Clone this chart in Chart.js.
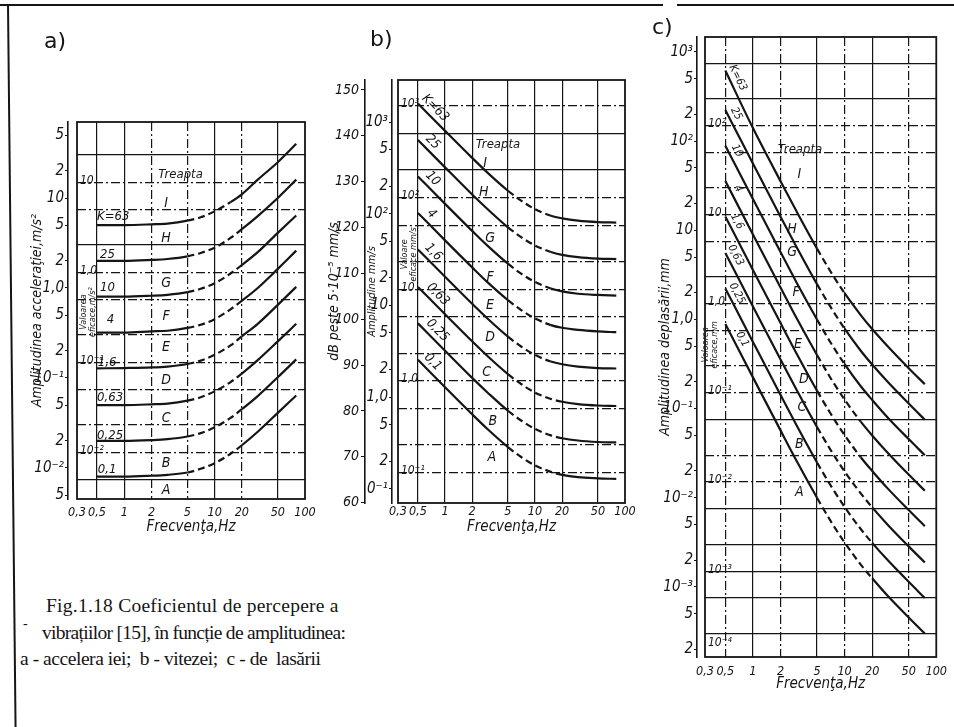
<!DOCTYPE html>
<html lang="ro">
<head>
<meta charset="UTF-8">
<title>Coeficientul de percepere a vibrațiilor</title>
<script src="https://cdn.jsdelivr.net/npm/chart.js@4.4.0/dist/chart.umd.min.js"></script>
<style>
    body { margin: 0; background: #fff; }
    .page { position: relative; width: 954px; height: 727px; overflow: hidden; background: #fff; }
    canvas { position: absolute; }
    .rule { position: absolute; background: #151515; }
    .slant { transform-origin: top left; transform: rotate(-0.6deg); }
    .letter { position: absolute; font: 22px 'DejaVu Sans', sans-serif; color: #151515; }
    .caption { position: absolute; font: 19.5px 'Liberation Serif', 'Times New Roman', serif; color: #151515; white-space: pre; }
</style>
</head>
<body>
<div class="page">
    <div class="rule" style="left:0;top:4px;width:663px;height:1.5px"></div>
    <div class="rule" style="left:677px;top:4px;width:277px;height:1.5px"></div>
    <div class="rule slant" style="left:7px;top:5px;width:1.5px;height:722px"></div>

    <canvas id="chartA" width="330" height="560" style="left:0;top:0"></canvas>
    <canvas id="chartB" width="320" height="560" style="left:322px;top:0"></canvas>
    <canvas id="chartC" width="314" height="727" style="left:640px;top:0"></canvas>

    <div class="letter" style="left:44px;top:28px">a)</div>
    <div class="letter" style="left:370px;top:26px">b)</div>
    <div class="letter" style="left:652px;top:14px">c)</div>

    <div class="caption" style="left:46px;top:595px;letter-spacing:0.25px">Fig.1.18 Coeficientul de percepere a</div>
    <div class="caption" style="left:23px;top:616px;font-size:14px">-</div>
    <div class="caption" style="left:42px;top:622px;letter-spacing:-0.7px">vibrațiilor [15], în funcție de amplitudinea:</div>
    <div class="caption" style="left:20px;top:648px;letter-spacing:-0.45px">a - accelera iei;  b - vitezei;  c - de  lasării</div>
</div>

<script>
    const INK = '#151515';
    const HAND = "'DejaVu Sans Condensed', 'Liberation Sans Narrow', 'DejaVu Sans', sans-serif";

    // frequencies at which the curves were read, Hz
    const freqAB = [0.5, 1, 2, 3, 5, 7, 10, 15, 20, 30, 50, 80];
    const freqC = [0.5, 1, 2, 3, 5, 7, 10, 15, 20, 30, 50, 75];

    const freqTicks = [0.3, 0.5, 1, 2, 5, 10, 20, 50, 100];
    const freqTickLabels = ['0,3', '0,5', '1', '2', '5', '10', '20', '50', '100'];

    const kLabels = ['K=63', '25', '10', '4', '1,6', '0,63', '0,25', '0,1'];
    const stepLabels = ['I', 'H', 'G', 'F', 'E', 'D', 'C', 'B', 'A'];

    // a) acceleration amplitude, m/s²
    const accel = [
        [5.0, 5.0, 5.1, 5.2, 5.6, 6.1, 7.1, 9.0, 11, 16, 25, 40],
        [2.0, 2.0, 2.05, 2.1, 2.25, 2.45, 2.8, 3.6, 4.5, 6.3, 10, 16],
        [0.8, 0.8, 0.82, 0.84, 0.9, 0.98, 1.13, 1.45, 1.8, 2.5, 4.1, 6.4],
        [0.32, 0.32, 0.33, 0.335, 0.36, 0.39, 0.45, 0.58, 0.72, 1.0, 1.63, 2.6],
        [0.128, 0.129, 0.131, 0.134, 0.143, 0.156, 0.181, 0.23, 0.29, 0.4, 0.65, 1.03],
        [0.05, 0.05, 0.051, 0.052, 0.056, 0.061, 0.071, 0.09, 0.112, 0.158, 0.255, 0.4],
        [0.02, 0.02, 0.0204, 0.0209, 0.0224, 0.0244, 0.0283, 0.036, 0.045, 0.063, 0.102, 0.161],
        [0.008, 0.008, 0.0082, 0.0084, 0.0089, 0.0098, 0.0113, 0.0144, 0.0179, 0.0253, 0.041, 0.064]
    ];
    // b) velocity amplitude, mm/s
    const velocity = [
        [1590, 800, 406, 277, 178, 139, 112, 95, 89, 84, 81, 80],
        [637, 320, 162, 111, 71, 55.6, 45, 38.2, 35.6, 33.6, 32.4, 32],
        [255, 128, 65, 44.3, 28.5, 22.2, 18, 15.3, 14.2, 13.4, 13, 12.8],
        [102, 51.2, 26, 17.7, 11.4, 8.9, 7.2, 6.1, 5.7, 5.4, 5.2, 5.1],
        [40.8, 20.5, 10.4, 7.1, 4.56, 3.56, 2.88, 2.44, 2.28, 2.15, 2.07, 2.05],
        [15.9, 8.0, 4.06, 2.77, 1.78, 1.39, 1.12, 0.955, 0.89, 0.84, 0.81, 0.8],
        [6.37, 3.2, 1.62, 1.11, 0.71, 0.556, 0.45, 0.382, 0.356, 0.336, 0.324, 0.32],
        [2.55, 1.28, 0.65, 0.443, 0.285, 0.222, 0.18, 0.153, 0.142, 0.134, 0.13, 0.128]
    ];
    // c) displacement amplitude, mm
    const displacement = [
        [620, 140, 35.5, 16.2, 6.23, 3.47, 1.97, 1.12, 0.78, 0.49, 0.284, 0.188],
        [223, 56, 14.2, 6.46, 2.49, 1.39, 0.788, 0.446, 0.312, 0.196, 0.114, 0.075],
        [89, 22.4, 5.7, 2.58, 1.0, 0.555, 0.315, 0.178, 0.125, 0.078, 0.0455, 0.030],
        [35.7, 8.96, 2.28, 1.03, 0.4, 0.222, 0.126, 0.0714, 0.05, 0.0314, 0.0182, 0.012],
        [14.3, 3.58, 0.91, 0.413, 0.159, 0.0888, 0.0504, 0.0285, 0.02, 0.0125, 0.00728, 0.0048],
        [5.58, 1.4, 0.356, 0.162, 0.0623, 0.0347, 0.0197, 0.0112, 0.0078, 0.0049, 0.00285, 0.00188],
        [2.23, 0.56, 0.142, 0.0646, 0.0249, 0.0139, 0.00788, 0.00446, 0.00312, 0.00196, 0.00114, 0.00075],
        [0.89, 0.224, 0.057, 0.0258, 0.01, 0.00555, 0.00315, 0.00178, 0.00125, 0.00078, 0.000455, 0.0003]
    ];

    // each curve is dashed from 5 Hz up to this frequency
    const dashEndA = [15, 20, 20, 20, 20, 20, 20, 20];
    const dashEndB = [15, 15, 15, 15, 15, 20, 20, 20];
    const dashEndC = [10, 10, 10, 15, 15, 20, 20, 20];

    // outer amplitude scales
    const accelTicks = [50, 20, 10, 5, 2, 1, 0.5, 0.2, 0.1, 0.05, 0.02, 0.01, 0.005];
    const accelTickLabels = ['5', '2', '10', '5', '2', '1,0', '5', '2', '10⁻¹', '5', '2', '10⁻²', '5'];
    const velocityTicks = [1000, 500, 200, 100, 50, 20, 10, 5, 2, 1, 0.5, 0.2, 0.1];
    const velocityTickLabels = ['10³', '5', '2', '10²', '5', '2', '10', '5', '2', '1,0', '5', '2', '10⁻¹'];
    const dbTicks = [150, 140, 130, 120, 110, 100, 90, 80, 70, 60];
    const dbRef = 5e-5; // mm/s
    const displTicks = [1000, 500, 200, 100, 50, 20, 10, 5, 2, 1, 0.5, 0.2, 0.1, 0.05, 0.02, 0.01, 0.005, 0.002, 0.001, 0.0005, 0.0002];
    const displTickLabels = ['10³', '5', '2', '10²', '5', '2', '10', '5', '2', '1,0', '5', '2', '10⁻¹', '5', '2', '10⁻²', '5', '2', '10⁻³', '5', '2'];

    // effective (rms) value scales written inside the frames
    const effA = [10, 1, 0.1, 0.01];
    const effALabels = ['10', '1,0', '10⁻¹', '10⁻²'];
    const effB = [1000, 100, 10, 1, 0.1];
    const effBLabels = ['10³', '10²', '10', '1,0', '10⁻¹'];
    const effC = [100, 10, 1, 0.1, 0.01, 0.001, 0.0001];
    const effCLabels = ['10²', '10', '1,0', '10⁻¹', '10⁻²', '10⁻³', '10⁻⁴'];

    // horizontal grid levels and the ones drawn solid
    const gridA = [30, 15, 7.5, 3, 1.5, 0.75, 0.3, 0.15, 0.075, 0.03, 0.015, 0.0075];
    const solidA = [30, 3, 0.0075];
    const gridB = [1500, 750, 300, 150, 75, 30, 15, 7.5, 3, 1.5, 0.75, 0.3, 0.15];
    const solidB = [750, 300];
    const gridC = [750, 300, 150, 75, 30, 15, 7.5, 3, 1.5, 0.75, 0.3, 0.15, 0.075, 0.03, 0.015, 0.0075, 0.003, 0.0015, 0.00075, 0.0003];
    const solidC = [750, 300, 3, 0.075, 0.0075, 0.003, 0.0015, 0.00075, 0.0003];
    // vertical grid lines drawn solid
    const vSolidA = [0.5, 1, 10, 50];
    const vSolidB = [0.5, 1, 2, 5, 10, 20, 50];
    const vSolidC = [1, 5, 20];

    // label anchors as [frequency, amplitude]
    const treaptaA = [4.2, 18];
    const stepPosA = [[2.9, 8.8], [2.9, 3.6], [2.9, 1.14], [2.9, 0.49], [2.9, 0.22], [2.9, 0.095], [2.9, 0.036], [2.9, 0.0114], [2.9, 0.0057]];
    const kPosA = [[0.5, 6.2], [0.54, 2.35], [0.54, 1.0], [0.64, 0.44], [0.51, 0.15], [0.5, 0.06], [0.5, 0.023], [0.51, 0.0095]];
    const treaptaB = [3.87, 561];
    const stepPosB = [[2.78, 356], [2.7, 173], [3.16, 54], [3.16, 20.4], [3.16, 10.1], [3.16, 4.5], [2.9, 1.88], [3.4, 0.54], [3.3, 0.22]];
    const treaptaC = [3.26, 80];
    const stepPosC = [[3.2, 42], [2.67, 10.2], [2.67, 5.6], [2.95, 2.0], [3.1, 0.52], [3.6, 0.214], [3.42, 0.103], [3.2, 0.04], [3.2, 0.0115]];
    // in b) and c) the K labels run along their curve: frequency of the label centre
    const kFreqB = [0.66, 0.62, 0.62, 0.6, 0.63, 0.71, 0.7, 0.62];
    const kFreqC = [0.57, 0.55, 0.56, 0.58, 0.56, 0.54, 0.56, 0.64];

    const handFont = size => `italic ${size}px ${HAND}`;
    const dashDot = [9, 3, 2, 3];
    const near = (list, v) => list.some(s => Math.abs(s - v) <= 1e-9 * Math.max(1, Math.abs(v)));

    // value of a curve at frequency f, read between its neighbouring points on log axes
    function curveAt(freq, row, f) {
        let j = 0;
        while (j < freq.length - 2 && freq[j + 1] < f) j++;
        const t = Math.log(f / freq[j]) / Math.log(freq[j + 1] / freq[j]);
        return {j, v: Math.exp(Math.log(row[j]) + t * Math.log(row[j + 1] / row[j]))};
    }

    function notesPlugin(p) {
        return {
            id: 'notes',
            afterDatasetsDraw(chart) {
                const {ctx, chartArea: area, scales: {x, y}} = chart;
                const px = f => x.getPixelForValue(f);
                const py = v => y.getPixelForValue(v);
                ctx.save();
                ctx.strokeStyle = INK;
                ctx.lineWidth = 1.8;
                ctx.strokeRect(area.left, area.top, area.right - area.left, area.bottom - area.top);
                ctx.fillStyle = INK;

                // rms scale, just inside the left edge (kept clear of the bottom frame)
                ctx.font = handFont(12);
                ctx.textAlign = 'left';
                ctx.textBaseline = 'middle';
                p.eff.forEach((v, i) => {
                    const yy = Math.min(py(v * Math.SQRT2) - 4, area.bottom - 14);
                    ctx.fillText(p.effLabels[i], area.left + 3, yy);
                });

                ctx.save();
                ctx.translate(px(p.effTitlePos[0]), py(p.effTitlePos[1]));
                ctx.rotate(-Math.PI / 2);
                ctx.font = handFont(9);
                ctx.textAlign = 'center';
                p.effTitle.forEach((line, i) => ctx.fillText(line, 0, (i - 0.5) * 9));
                ctx.restore();

                ctx.textAlign = 'center';
                ctx.font = handFont(13);
                ctx.fillText('Treapta', px(p.treapta[0]), py(p.treapta[1]));
                ctx.font = handFont(14);
                stepLabels.forEach((t, i) => ctx.fillText(t, px(p.stepPos[i][0]), py(p.stepPos[i][1])));

                // curve parameter written next to the start of each curve
                ctx.font = handFont(p.kSize);
                kLabels.forEach((t, i) => {
                    ctx.save();
                    if (p.kFreq) {
                        const f = p.kFreq[i];
                        const {j, v} = curveAt(p.freq, p.rows[i], f);
                        const ang = Math.atan2(py(p.rows[i][j + 1]) - py(p.rows[i][j]), px(p.freq[j + 1]) - px(p.freq[j]));
                        ctx.translate(px(f) + p.kGap * Math.sin(ang), py(v) - p.kGap * Math.cos(ang));
                        ctx.rotate(ang);
                        ctx.textAlign = 'center';
                    } else {
                        ctx.translate(px(p.kPos[i][0]), py(p.kPos[i][1]));
                        ctx.textAlign = 'left';
                    }
                    ctx.fillText(t, 0, 0);
                    ctx.restore();
                });
                ctx.restore();
            }
        };
    }

    function makePanel(id, p) {
        const datasets = p.rows.map((row, i) => ({
            data: p.freq.map((f, j) => ({x: f, y: row[j]})),
            borderColor: INK,
            borderWidth: 2.2,
            pointRadius: 0,
            fill: false,
            cubicInterpolationMode: 'monotone',
            segment: {
                borderDash: c => (c.p0.parsed.x >= 5 - 1e-6 && c.p1.parsed.x <= p.dashEnd[i] + 1e-6) ? [7, 4] : undefined
            }
        }));

        const scales = {
            x: {
                type: 'logarithmic',
                min: 0.3,
                max: 100,
                afterBuildTicks: s => { s.ticks = freqTicks.map(v => ({value: v})); },
                afterFit: s => { s.height = p.xBoxH; },
                ticks: {
                    autoSkip: false, maxRotation: 0, padding: p.xPad, color: INK,
                    font: {family: HAND, style: 'italic', size: 12.5},
                    callback: (v, i) => freqTickLabels[i]
                },
                grid: {
                    drawTicks: false,
                    lineWidth: 1.2,
                    color: c => (c.tick && (c.tick.value <= 0.3 || c.tick.value >= 100)) ? 'rgba(0,0,0,0)' : INK
                },
                border: {display: false, dash: c => (c.tick && near(p.vSolid, c.tick.value)) ? [] : dashDot},
                title: {display: true, text: 'Frecvenţa,Hz', color: INK, font: {family: HAND, style: 'italic', size: 15}, padding: {top: 0, bottom: 2}}
            },
            y: {
                type: 'logarithmic',
                position: 'left',
                weight: 1,
                min: p.yMin,
                max: p.yMax,
                afterBuildTicks: s => { s.ticks = p.yTicks.map(v => ({value: v})); },
                afterFit: s => { s.width = p.yW; },
                ticks: {
                    autoSkip: false, padding: 1, color: INK,
                    font: {family: HAND, style: 'italic', size: 15},
                    callback: (v, i) => p.yTickLabels[i]
                },
                grid: {drawOnChartArea: false, drawTicks: true, tickLength: 3, color: INK},
                border: {display: true, color: INK, width: 1.6},
                title: {display: true, text: p.yTitle, color: INK, font: {family: HAND, style: 'italic', size: p.yTitleSize}, padding: {top: 1, bottom: 0}}
            },
            yg: {
                type: 'logarithmic',
                position: 'left',
                weight: 0,
                min: p.yMin,
                max: p.yMax,
                afterBuildTicks: s => { s.ticks = p.grid.map(v => ({value: v})); },
                afterFit: s => { s.width = p.gapW; },
                ticks: {display: false, autoSkip: false},
                grid: {drawTicks: false, lineWidth: 1.2, color: INK},
                border: {display: false, dash: c => (c.tick && near(p.solid, c.tick.value)) ? [] : dashDot}
            },
            ...(p.extraScales || {})
        };

        return new Chart(document.getElementById(id), {
            type: 'line',
            data: {datasets},
            options: {
                responsive: false,
                animation: false,
                events: [],
                devicePixelRatio: 1,
                layout: {padding: p.padding},
                scales,
                plugins: {legend: {display: false}, tooltip: {enabled: false}}
            },
            plugins: [notesPlugin(p)]
        });
    }

    // a) acceleration
    makePanel('chartA', {
        freq: freqAB, rows: accel, dashEnd: dashEndA,
        yMin: 0.004523, yMax: 69.9,
        yTicks: accelTicks, yTickLabels: accelTickLabels,
        yTitle: 'Amplitudinea acceleraţiei,m/s²', yTitleSize: 14,
        grid: gridA, solid: solidA, vSolid: vSolidA,
        yW: 40, gapW: 9, xBoxH: 39, xPad: 6,
        padding: {left: 28, top: 122, right: 25, bottom: 22},
        eff: effA, effLabels: effALabels,
        effTitle: ['Valoarea', 'eficace,m/s²'], effTitlePos: [0.4, 0.54],
        treapta: treaptaA, stepPos: stepPosA, kPos: kPosA, kSize: 13
    });

    // b) velocity, with the dB scale on the far left
    const bMin = 0.06999, bMax = 2871;
    const dbOf = v => 20 * Math.log10(v / (Math.SQRT2 * dbRef));
    makePanel('chartB', {
        freq: freqAB, rows: velocity, dashEnd: dashEndB,
        yMin: bMin, yMax: bMax,
        yTicks: velocityTicks, yTickLabels: velocityTickLabels,
        yTitle: 'Amplitudine mm/s', yTitleSize: 11,
        grid: gridB, solid: solidB, vSolid: vSolidB,
        yW: 27, gapW: 6, xBoxH: 35, xPad: 1,
        padding: {left: 4, top: 80, right: 17, bottom: 22},
        eff: effB, effLabels: effBLabels,
        effTitle: ['Valoare', 'eficace mm/s'], effTitlePos: [0.4, 36],
        treapta: treaptaB, stepPos: stepPosB, kFreq: kFreqB, kGap: 9, kSize: 13,
        extraScales: {
            ydb: {
                type: 'linear',
                position: 'left',
                weight: 2,
                min: dbOf(bMin),
                max: dbOf(bMax),
                afterBuildTicks: s => { s.ticks = dbTicks.map(v => ({value: v})); },
                afterFit: s => { s.width = 39; },
                ticks: {autoSkip: false, padding: 2, color: INK, font: {family: HAND, style: 'italic', size: 14}, callback: v => String(v)},
                grid: {drawOnChartArea: false, drawTicks: true, tickLength: 4, color: INK},
                border: {display: true, color: INK, width: 1.6},
                title: {display: true, text: 'dB peste 5·10⁻⁵ mm/s', color: INK, font: {family: HAND, style: 'italic', size: 14}, padding: {top: 0, bottom: 0}}
            }
        }
    });

    // c) displacement
    makePanel('chartC', {
        freq: freqC, rows: displacement, dashEnd: dashEndC,
        yMin: 1.637e-4, yMax: 1472,
        yTicks: displTicks, yTickLabels: displTickLabels,
        yTitle: 'Amplitudinea deplasării,mm', yTitleSize: 14,
        grid: gridC, solid: solidC, vSolid: vSolidC,
        yW: 41, gapW: 8, xBoxH: 38, xPad: 7,
        padding: {left: 16, top: 37, right: 15, bottom: 32},
        eff: effC, effLabels: effCLabels,
        effTitle: ['Valoarea', 'eficace,mm'], effTitlePos: [0.34, 0.52],
        treapta: treaptaC, stepPos: stepPosC, kFreq: kFreqC, kGap: 8, kSize: 11
    });
</script>
</body>
</html>
